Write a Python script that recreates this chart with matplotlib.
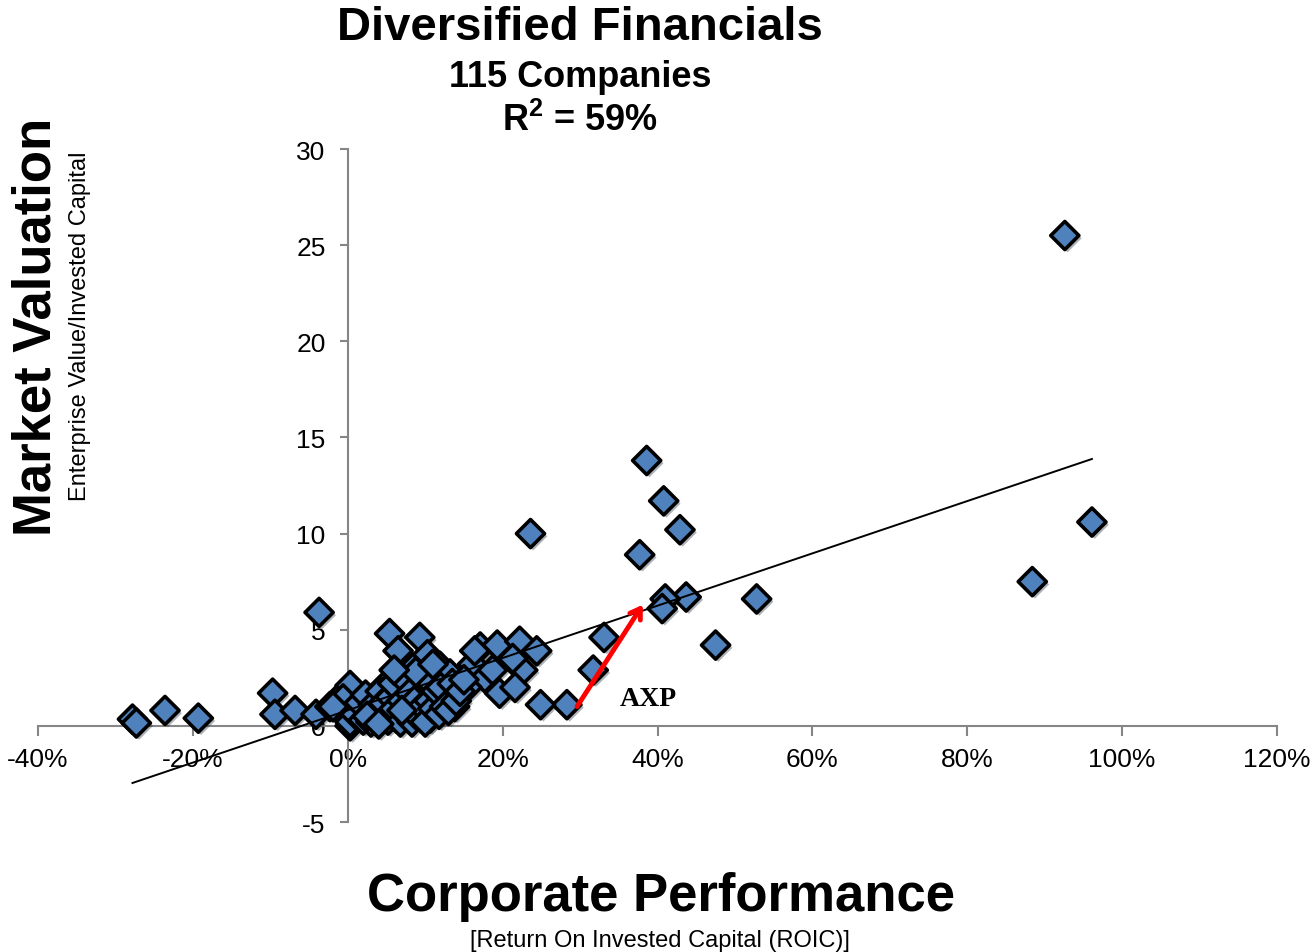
import matplotlib

matplotlib.use("Agg")
import matplotlib.pyplot as plt
import matplotlib.patheffects as pe
import numpy as np

# ROIC (%) and EV / invested capital
roic = [
    92.6, 96.1, 88.4, 52.8, 47.5, 43.7, 41.0, 40.6, 38.6, 40.8,
    42.9, 37.7, 33.1, 31.7, 28.3, 24.9, 23.6, -3.7,
    -27.8, -27.3, -23.6, -19.3, -9.7, -9.4, -6.8, -4.1, -2.3, -1.0,
    0.3, 0.3, -0.6, -1.9,
    5.4, 6.5, 9.3, 10.3, 11.9, 8.4, 4.8, 3.7, 8.9, 7.6,
    8.9, 11.5, 0.3, 4.5, 2.8, 6.3, 12.8, 10.6, 6.3, 9.7, 13.2,
    17.1, 19.3, 22.2, 24.4, 13.2, 16.1, 17.7, 18.7, 22.6, 21.3,
    15.4, 19.6, 21.6, 13.8, 12.3,
    6.5, 9.9, 16.4, 5.0, 10.2,
    1.0, 1.5, 2.0, 2.3, 3.0, 3.3, 3.8, 4.2, 4.6, 5.2,
    5.5, 5.8, 6.0, 6.8, 7.0, 7.3, 7.7, 8.0, 8.3, 8.6,
    9.0, 9.3, 9.6, 10.0, 10.5, 10.8, 11.0, 11.4, 11.8, 12.0,
    12.5, 13.0, 13.5, 14.0, 14.5, 15.0, 2.5, 4.0, 7.0, 8.8,
    11.0, 6.0,
]
ev_ic = [
    25.5, 10.6, 7.5, 6.6, 4.2, 6.7, 6.6, 6.1, 13.8, 11.7,
    10.2, 8.9, 4.6, 2.9, 1.1, 1.1, 10.0, 5.9,
    0.35, 0.15, 0.8, 0.4, 1.7, 0.6, 0.8, 0.6, 1.0, 1.5,
    2.1, 0.0, 1.4, 1.0,
    4.8, 3.9, 4.6, 3.7, 3.1, 3.0, 2.1, 1.4, 2.1, 1.0,
    0.9, 1.1, 0.2, 0.5, 0.9, 1.4, 2.4, 0.4, 0.4, 1.6, 1.6,
    4.1, 4.2, 4.4, 3.9, 2.7, 3.2, 2.5, 2.9, 2.9, 3.5,
    2.0, 1.7, 2.0, 1.0, 1.5,
    1.8, 2.0, 3.9, 0.6, 0.7,
    0.6, 1.2, 0.3, 1.6, 0.2, 1.1, 0.7, 1.8, 1.2, 0.3,
    1.5, 2.2, 0.9, 0.2, 1.3, 2.4, 0.5, 1.7, 0.2, 1.3,
    0.5, 2.6, 1.0, 0.2, 1.3, 2.2, 0.9, 1.8, 0.6, 2.0,
    1.0, 0.8, 2.2, 1.3, 1.8, 2.4, 0.5, 0.1, 0.8, 2.8,
    3.2, 2.9,
]

# linear trend line (slope per % ROIC, intercept)
trend_slope = 0.136
trend_intercept = 0.81

# AXP move: from -> to
axp_from = (29.6, 1.0)
axp_to = (38.1, 6.3)

x_ticks = [-40, -20, 0, 20, 40, 60, 80, 100, 120]
y_ticks = [-5, 0, 5, 10, 15, 20, 25, 30]

plt.rcParams["font.family"] = ["Liberation Sans", "DejaVu Sans"]
plt.rcParams["axes.unicode_minus"] = False
plt.rcParams["mathtext.fontset"] = "custom"
plt.rcParams["mathtext.bf"] = "Liberation Sans:bold"
plt.rcParams["mathtext.rm"] = "Liberation Sans"

fig = plt.figure(figsize=(13.15, 9.53), dpi=100)
ax = fig.add_axes([0.0289, 0.1364, 0.9422, 0.7062])
ax.set_xlim(-40, 120)
ax.set_ylim(-5, 30)

axis_grey = "#868686"
for side in ("top", "right"):
    ax.spines[side].set_visible(False)
ax.spines["left"].set_position(("data", 0))
ax.spines["bottom"].set_position(("data", 0))
ax.spines["left"].set_color(axis_grey)
ax.spines["bottom"].set_color(axis_grey)
ax.spines["left"].set_linewidth(1.5)
ax.spines["bottom"].set_linewidth(1.5)

ax.set_xticks(x_ticks)
ax.set_xticklabels([f"{t}%" for t in x_ticks])
ax.set_yticks(y_ticks)
ax.tick_params(axis="both", colors=axis_grey, labelcolor="black", labelsize=19,
               width=1.5, direction="out")
ax.tick_params(axis="y", length=6, pad=10)
ax.tick_params(axis="x", length=7, pad=8)

sc = ax.scatter(roic, ev_ic, s=205, marker="D", facecolor="#4F81BD",
                edgecolor="black", linewidth=2.6, zorder=3)
sc.set_path_effects([pe.SimplePatchShadow(offset=(2, -2), alpha=0.35), pe.Normal()])

tx = np.array([min(roic), max(roic)])
ax.plot(tx, trend_slope * tx + trend_intercept, color="black", lw=1.4, zorder=4)

ax.annotate("", xy=axp_to, xytext=axp_from,
            arrowprops=dict(arrowstyle="->,head_length=0.7,head_width=0.45",
                            color="#FF0000", lw=3.5, shrinkA=0, shrinkB=0),
            zorder=5)
ax.text(38.8, 1.4, "AXP", family="Liberation Serif", fontweight="bold",
        fontsize=20, ha="center", va="center", zorder=5)

fig.text(0.441, 0.971, "Diversified Financials", fontsize=34, fontweight="bold",
         ha="center", va="center")
fig.text(0.441, 0.919, "115 Companies", fontsize=26, fontweight="bold",
         ha="center", va="center")
fig.text(0.441, 0.873, r"$\mathbf{R^{2}}$ = 59%", fontsize=26, fontweight="bold",
         ha="center", va="center")

fig.text(0.028, 0.657, "Market Valuation", fontsize=38, fontweight="bold",
         rotation=90, ha="center", va="center")
fig.text(0.061, 0.658, "Enterprise Value/Invested Capital", fontsize=17,
         rotation=90, ha="center", va="center")

fig.text(0.503, 0.059, "Corporate Performance", fontsize=38, fontweight="bold",
         ha="center", va="center")
fig.text(0.502, 0.013, "[Return On Invested Capital (ROIC)]", fontsize=17,
         ha="center", va="center")

fig.savefig("out.png", dpi=100)
